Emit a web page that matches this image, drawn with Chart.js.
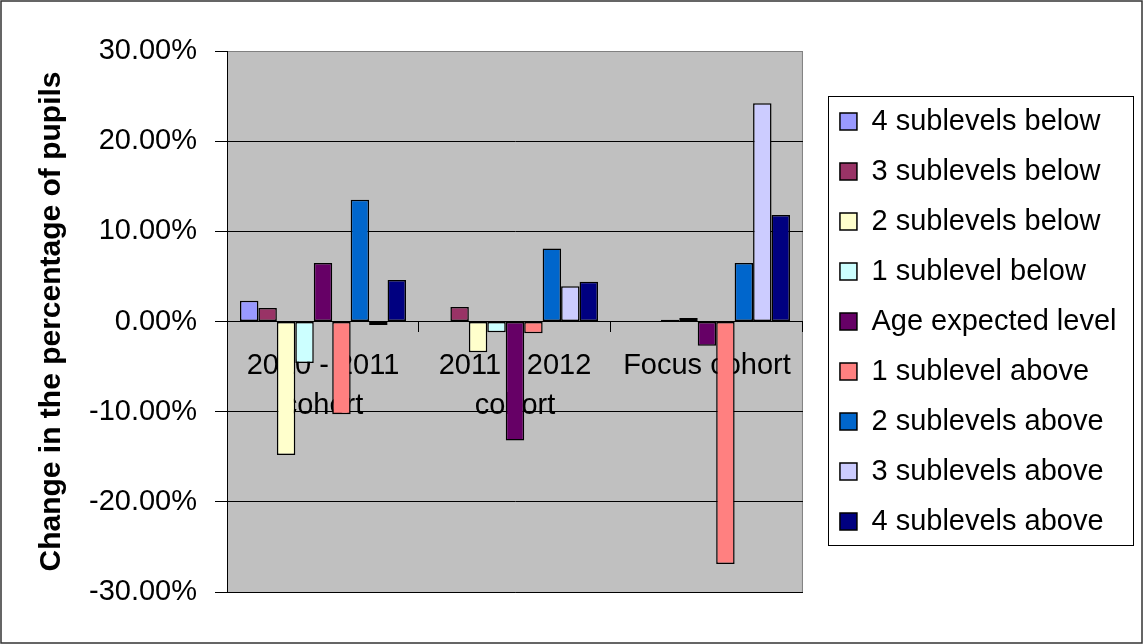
<!DOCTYPE html>
<html>
<head>
<meta charset="utf-8">
<title>Change in the percentage of pupils by sublevel</title>
<script src="https://cdn.jsdelivr.net/npm/chart.js@4.4.1/dist/chart.umd.min.js"></script>
<style>
  html, body { margin: 0; padding: 0; background: #ffffff; }
  #wrap { position: relative; width: 1143px; height: 644px; }
  canvas { display: block; }
</style>
</head>
<body>
<div id="wrap"><canvas id="chart" width="1143" height="644"></canvas></div>
<script>
// Cohorts on the category axis
const cohorts = [['2010 - 2011', 'cohort'], ['2011 - 2012', 'cohort'], 'Focus cohort'];

// Change in the percentage of pupils (percentage points), one array per sublevel band
const fourBelow     = [2.3, 0, null];
const threeBelow    = [1.5, 1.6, null];
const twoBelow      = [-14.8, -3.4, 0.2];
const oneBelow      = [-4.6, -1.2, 0.4];
const ageExpected   = [6.5, -13.2, -2.7];
const oneAbove      = [-10.3, -1.3, -26.9];
const twoAbove      = [13.5, 8.1, 6.5];
const threeAbove    = [-0.4, 3.9, 24.2];
const fourAbove     = [4.6, 4.4, 11.8];

const seriesNames = [
  '4 sublevels below', '3 sublevels below', '2 sublevels below', '1 sublevel below',
  'Age expected level', '1 sublevel above', '2 sublevels above', '3 sublevels above', '4 sublevels above'
];
const seriesValues = [fourBelow, threeBelow, twoBelow, oneBelow, ageExpected, oneAbove, twoAbove, threeAbove, fourAbove];
const seriesColors = ['#9999FF', '#993366', '#FFFFCC', '#CCFFFF', '#660066', '#FF8080', '#0066CC', '#CCCCFF', '#000080'];

// Axis range and tick step (percent)
const yMin = -30, yMax = 30, yStep = 10;

const FONT = 'Liberation Sans, Arial, sans-serif';
const LEGEND_PAD = 21;
const LEGEND_FONT = 29;

// Grey plot area, legend frame and outer chart border
const chartDecor = {
  id: 'chartDecor',
  afterLayout(chart) {
    // leave a gap between the plot area and the legend frame
    const lg = chart.legend;
    lg.left += 16;
    lg.right += 16;
  },
  beforeDraw(chart) {
    const {ctx, chartArea: a} = chart;
    ctx.save();
    ctx.fillStyle = '#ffffff';
    ctx.fillRect(0, 0, chart.width, chart.height);
    ctx.fillStyle = '#C0C0C0';
    ctx.fillRect(a.left, a.top, a.right - a.left, a.bottom - a.top);
    ctx.strokeStyle = '#808080';
    ctx.lineWidth = 1;
    ctx.strokeRect(a.left + 0.5, a.top + 0.5, a.right - a.left - 1, a.bottom - a.top);
    ctx.restore();
  },
  afterDraw(chart) {
    const {ctx} = chart;
    const lg = chart.legend;
    const n = seriesNames.length;
    const colH = n * (LEGEND_FONT + LEGEND_PAD);
    const startY = (lg.top + LEGEND_PAD + lg.bottom - colH) / 2;
    ctx.save();
    ctx.strokeStyle = '#000000';
    ctx.lineWidth = 1;
    const x0 = Math.round(lg.left + 9) + 0.5;
    const x1 = chart.width - 10 + 0.5;
    const y0 = Math.round(startY - 11) + 0.5;
    const y1 = Math.round(startY + colH - 12) + 0.5;
    ctx.strokeRect(x0, y0, x1 - x0, y1 - y0);
    ctx.strokeStyle = '#333333';
    ctx.lineWidth = 1.5;
    ctx.strokeRect(1, 1, chart.width - 2, chart.height - 2);
    ctx.restore();
  }
};

const datasets = seriesNames.map((name, i) => ({
  label: name,
  data: seriesValues[i],
  backgroundColor: seriesColors[i],
  borderColor: '#000000',
  borderWidth: 1.5,
  borderSkipped: false,
  categoryPercentage: 0.865,
  barPercentage: 1.0
}));

new Chart(document.getElementById('chart'), {
  type: 'bar',
  data: { labels: cohorts, datasets },
  plugins: [chartDecor],
  options: {
    responsive: false,
    devicePixelRatio: 1,
    animation: false,
    layout: { padding: { left: 10, top: 51, right: 32.5, bottom: 52 } },
    plugins: {
      tooltip: { enabled: false },
      legend: {
        position: 'right',
        align: 'center',
        maxWidth: 360,
        labels: {
          color: '#000000',
          font: { family: FONT, size: LEGEND_FONT },
          boxWidth: 17,
          boxHeight: 17,
          padding: LEGEND_PAD
        }
      }
    },
    scales: {
      x: {
        position: { y: 0 },
        z: 1,
        grid: {
          display: true,
          drawOnChartArea: false,
          drawTicks: true,
          tickLength: 10,
          tickColor: '#000000',
          offset: true
        },
        border: { display: true, color: '#000000', width: 1 },
        ticks: {
          color: '#000000',
          font: { family: FONT, size: 29, lineHeight: 1.38 },
          padding: 14,
          maxRotation: 0,
          autoSkip: false
        }
      },
      y: {
        min: yMin,
        max: yMax,
        afterFit(scale) { scale.width = 217; },
        grid: {
          color: (c) => (c.tick && c.tick.value === yMax ? '#808080' : '#000000'),
          lineWidth: 1,
          tickLength: 12,
          tickColor: '#000000'
        },
        border: { display: true, color: '#000000', width: 1 },
        ticks: {
          stepSize: yStep,
          color: '#000000',
          padding: 18,
          font: { family: FONT, size: 29 },
          callback: (v) => v.toFixed(2) + '%'
        },
        title: {
          display: true,
          text: 'Change in the percentage of pupils',
          color: '#000000',
          font: { family: FONT, size: 30, weight: 'bold' },
          padding: { top: 24, bottom: 0 }
        }
      }
    }
  }
});
</script>
</body>
</html>
